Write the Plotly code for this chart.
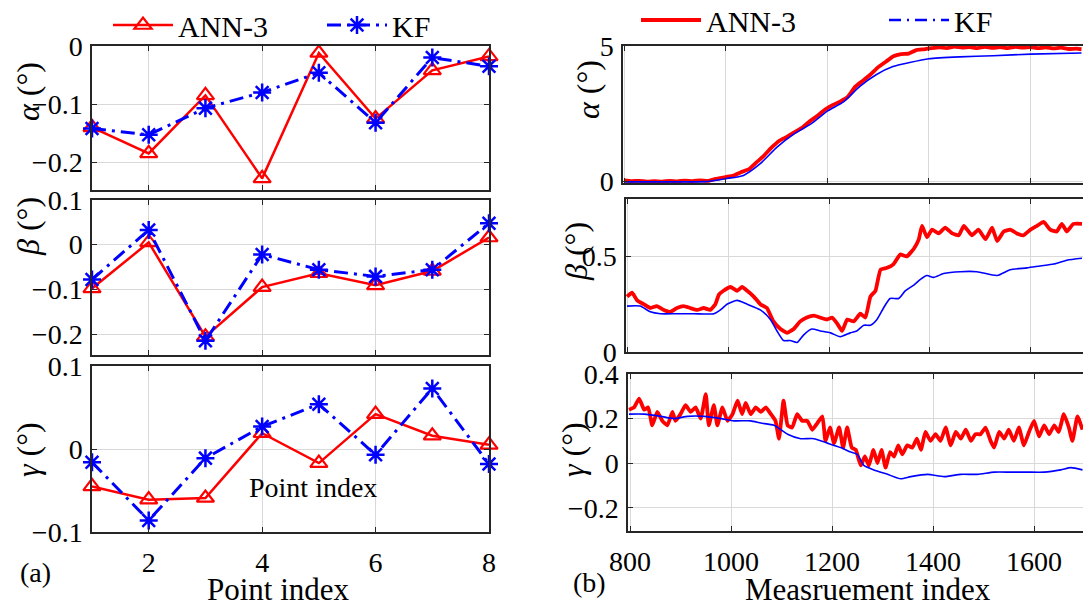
import plotly.graph_objects as go

# ---------------- data: (a) point-wise errors ----------------
point_idx = [1, 2, 3, 4, 5, 6, 7, 8]
ann_alpha_pt = [-0.14, -0.185, -0.085, -0.228, -0.012, -0.125, -0.042, -0.018]
kf_alpha_pt = [-0.142, -0.153, -0.107, -0.08, -0.046, -0.132, -0.02, -0.035]
ann_beta_pt = [-0.098, 0.005, -0.206, -0.095, -0.064, -0.091, -0.059, 0.016]
kf_beta_pt = [-0.078, 0.033, -0.215, -0.022, -0.056, -0.071, -0.056, 0.048]
ann_gamma_pt = [-0.045, -0.061, -0.059, 0.019, -0.017, 0.042, 0.016, 0.005]
kf_gamma_pt = [-0.016, -0.086, -0.011, 0.027, 0.054, -0.007, 0.073, -0.018]

# ---------------- data: (b) time series ----------------
ann_alpha_idx = [800, 815, 830, 845, 860, 875, 890, 905, 920, 935, 950, 965, 980, 1000, 1015,
                 1030, 1045, 1060, 1075, 1090, 1105, 1120, 1135, 1150, 1165, 1180, 1195, 1210,
                 1225, 1240, 1255, 1270, 1285, 1300, 1315, 1330, 1345, 1360, 1375, 1390, 1405,
                 1420, 1435, 1450, 1465, 1480, 1495, 1510, 1525, 1540, 1555, 1570, 1585, 1600,
                 1615, 1630, 1645, 1660, 1675, 1690, 1700]
ann_alpha_val = [0.05, 0.02, 0.03, 0.0, 0.02, 0.0, 0.03, 0.01, 0.04, 0.02, 0.05, 0.03, 0.10, 0.17,
                 0.22, 0.35, 0.45, 0.70, 0.95, 1.25, 1.50, 1.65, 1.82, 1.98, 2.22, 2.42, 2.65,
                 2.82, 2.95, 3.12, 3.50, 3.72, 3.95, 4.22, 4.42, 4.62, 4.70, 4.72, 4.85, 4.88,
                 4.92, 4.95, 4.92, 4.98, 4.94, 4.96, 4.92, 4.97, 4.93, 4.96, 4.92, 4.97, 4.94,
                 4.96, 4.92, 4.95, 4.91, 4.94, 4.89, 4.90, 4.88]
kf_alpha_idx = [800, 900, 960, 1000, 1035, 1068, 1101, 1134, 1167, 1200, 1231, 1264, 1296, 1329,
                1362, 1400, 1460, 1526, 1600, 1700]
kf_alpha_val = [-0.01, -0.01, 0.0, 0.11, 0.23, 0.66, 1.27, 1.75, 2.12, 2.60, 2.93, 3.51, 3.94,
                4.24, 4.39, 4.53, 4.60, 4.64, 4.70, 4.74]

ann_beta_idx = [800, 810, 820, 833, 846, 859, 873, 886, 899, 912, 925, 939, 952, 965, 975, 982,
                991, 1005, 1018, 1028, 1038, 1051, 1064, 1077, 1090, 1104, 1117, 1130, 1143, 1156,
                1170, 1183, 1196, 1206, 1216, 1226, 1236, 1249, 1262, 1272, 1282, 1292, 1302,
                1315, 1328, 1341, 1354, 1368, 1378, 1384, 1394, 1404, 1417, 1430, 1444, 1457,
                1467, 1483, 1496, 1510, 1523, 1533, 1546, 1559, 1572, 1585, 1599, 1612, 1625,
                1638, 1651, 1661, 1671, 1684, 1701]
ann_beta_val = [0.29, 0.31, 0.27, 0.25, 0.23, 0.24, 0.22, 0.21, 0.23, 0.24, 0.23, 0.22, 0.23,
                0.22, 0.25, 0.30, 0.32, 0.34, 0.32, 0.34, 0.32, 0.29, 0.25, 0.23, 0.16, 0.12,
                0.10, 0.12, 0.16, 0.18, 0.19, 0.18, 0.17, 0.18, 0.15, 0.11, 0.17, 0.16, 0.20,
                0.18, 0.29, 0.32, 0.43, 0.44, 0.46, 0.51, 0.50, 0.54, 0.59, 0.66, 0.60, 0.64,
                0.62, 0.65, 0.62, 0.61, 0.66, 0.61, 0.64, 0.59, 0.65, 0.58, 0.63, 0.64, 0.62,
                0.61, 0.64, 0.66, 0.68, 0.64, 0.63, 0.67, 0.63, 0.67, 0.67]
kf_beta_idx = [800, 826, 846, 866, 899, 932, 972, 985, 998, 1018, 1038, 1064, 1084, 1097, 1110,
               1123, 1137, 1150, 1166, 1183, 1203, 1222, 1242, 1255, 1269, 1282, 1295, 1308,
               1321, 1338, 1351, 1368, 1381, 1394, 1407, 1427, 1460, 1493, 1533, 1559, 1592,
               1618, 1645, 1671, 1701]
kf_beta_val = [0.24, 0.24, 0.21, 0.20, 0.20, 0.20, 0.20, 0.22, 0.25, 0.27, 0.25, 0.22, 0.17,
               0.11, 0.06, 0.06, 0.05, 0.09, 0.12, 0.11, 0.10, 0.08, 0.10, 0.11, 0.14, 0.14,
               0.17, 0.23, 0.28, 0.28, 0.32, 0.35, 0.38, 0.40, 0.39, 0.41, 0.42, 0.42, 0.40,
               0.43, 0.44, 0.45, 0.46, 0.48, 0.49]

ann_gamma_idx = [798, 808, 818, 828, 836, 844, 854, 864, 874, 884, 890, 900, 910, 920, 930, 940,
                 950, 956, 966, 973, 983, 993, 1003, 1013, 1022, 1029, 1039, 1049, 1059, 1069,
                 1079, 1088, 1095, 1104, 1112, 1121, 1131, 1141, 1151, 1161, 1171, 1181, 1187,
                 1196, 1204, 1214, 1222, 1230, 1239, 1247, 1257, 1265, 1273, 1282, 1290, 1298,
                 1306, 1315, 1323, 1331, 1339, 1349, 1359, 1368, 1376, 1385, 1395, 1405, 1415,
                 1425, 1435, 1445, 1455, 1465, 1475, 1484, 1494, 1504, 1514, 1521, 1531, 1541,
                 1550, 1560, 1570, 1580, 1590, 1600, 1610, 1620, 1630, 1640, 1649, 1659, 1669,
                 1676, 1686, 1696]
ann_gamma_val = [0.24, 0.25, 0.29, 0.24, 0.25, 0.17, 0.23, 0.19, 0.17, 0.23, 0.19, 0.22, 0.26,
                 0.23, 0.25, 0.20, 0.31, 0.17, 0.26, 0.17, 0.25, 0.19, 0.22, 0.28, 0.22, 0.27,
                 0.22, 0.25, 0.23, 0.25, 0.22, 0.19, 0.11, 0.28, 0.17, 0.16, 0.22, 0.19, 0.19,
                 0.15, 0.18, 0.21, 0.10, 0.16, 0.09, 0.16, 0.07, 0.16, 0.07, 0.06, -0.01, 0.03,
                 -0.01, 0.06, 0.00, 0.06, -0.02, 0.05, 0.03, 0.08, 0.04, 0.08, 0.07, 0.11, 0.06,
                 0.14, 0.10, 0.13, 0.10, 0.16, 0.08, 0.14, 0.11, 0.15, 0.10, 0.13, 0.13, 0.16,
                 0.10, 0.07, 0.14, 0.11, 0.15, 0.10, 0.16, 0.08, 0.14, 0.19, 0.12, 0.17, 0.13,
                 0.17, 0.14, 0.22, 0.16, 0.10, 0.21, 0.15]
kf_gamma_idx = [798, 828, 861, 887, 914, 947, 980, 1006, 1039, 1059, 1085, 1112, 1138, 1164,
                1191, 1217, 1237, 1250, 1263, 1283, 1310, 1336, 1356, 1389, 1422, 1455, 1488,
                1521, 1554, 1587, 1620, 1653, 1673, 1696]
kf_gamma_val = [0.22, 0.22, 0.21, 0.20, 0.21, 0.21, 0.20, 0.19, 0.19, 0.18, 0.17, 0.13, 0.11,
                0.11, 0.09, 0.07, 0.05, 0.04, -0.01, -0.03, -0.05, -0.07, -0.06, -0.05, -0.06,
                -0.05, -0.05, -0.04, -0.04, -0.04, -0.04, -0.03, -0.02, -0.03]

left_xticks = [2, 4, 6, 8]
right_xticks = [800, 1000, 1200, 1400, 1600]

# ---------------- styling ----------------
W, H = 1083, 607
FONT = "Liberation Serif"
RED = "#ff0000"
BLUE = "#0000ff"
AXC = "#262626"
GRID = "#d9d9d9"


def px(x):
    return x / W


def py(y):
    return 1 - y / H


fig = go.Figure()

left_sets = [(ann_alpha_pt, kf_alpha_pt), (ann_beta_pt, kf_beta_pt), (ann_gamma_pt, kf_gamma_pt)]
for i, (a, k) in enumerate(left_sets):
    n = i + 1
    fig.add_trace(go.Scatter(
        x=point_idx, y=a, mode="lines+markers", name="ANN-3",
        line=dict(color=RED, width=2.5),
        marker=dict(symbol="triangle-up-open", size=15, color=RED, line=dict(width=2.2, color=RED)),
        xaxis=f"x{n}", yaxis=f"y{n}", showlegend=(i == 0), legend="legend", cliponaxis=False))
    fig.add_trace(go.Scatter(
        x=point_idx, y=k, mode="lines+markers", name="KF",
        line=dict(color=BLUE, width=3, dash="14px,6px,3px,6px"),
        marker=dict(symbol="asterisk-open", size=15, color=BLUE, line=dict(width=2.5, color=BLUE)),
        xaxis=f"x{n}", yaxis=f"y{n}", showlegend=(i == 0), legend="legend3", cliponaxis=False))

right_sets = [(ann_alpha_idx, ann_alpha_val, kf_alpha_idx, kf_alpha_val),
              (ann_beta_idx, ann_beta_val, kf_beta_idx, kf_beta_val),
              (ann_gamma_idx, ann_gamma_val, kf_gamma_idx, kf_gamma_val)]
for i, (ax_, av, kx, kv) in enumerate(right_sets):
    n = i + 4
    fig.add_trace(go.Scatter(
        x=ax_, y=av, mode="lines", name="ANN-3",
        line=dict(color=RED, width=3.8, shape="spline", smoothing=0.4),
        xaxis=f"x{n}", yaxis=f"y{n}", showlegend=(i == 0), legend="legend2"))
    fig.add_trace(go.Scatter(
        x=kx, y=kv, mode="lines", name="KF",
        line=dict(color=BLUE, width=1.6, shape="spline", smoothing=0.6),
        xaxis=f"x{n}", yaxis=f"y{n}", showlegend=False, legend="legend4"))
# legend-only entry for KF in (b) drawn as dash-dot like the original legend
fig.add_trace(go.Scatter(
    x=[None], y=[None], mode="lines", name="KF",
    line=dict(color=BLUE, width=2.5, dash="12px,6px,2px,6px"),
    xaxis="x4", yaxis="y4", showlegend=True, legend="legend4"))

# ---------------- axes ----------------
left_dom_x = [px(92), px(489)]
left_dom_y = [[py(190), py(46)], [py(355), py(200)], [py(532), py(366)]]
left_ranges = [[-0.248, 0.0], [-0.247, 0.1], [-0.1, 0.1]]
left_yticks = [[0, -0.1, -0.2], [0.1, 0, -0.1, -0.2], [0.1, 0, -0.1]]

right_dom_x = [[px(623), 1.0], [px(626), 1.0], [px(628), 1.0]]
right_dom_y = [[py(183), py(46)], [py(352), py(199)], [py(531), py(374)]]
right_xr = [[798, 1703], [798, 1703], [796, 1697]]
right_ranges = [[-0.05, 5.0], [0.0, 0.8], [-0.304, 0.4]]
right_yticks = [[0, 5], [0, 0.5], [-0.2, 0, 0.2, 0.4]]

common_axis = dict(showline=True, linecolor=AXC, linewidth=1.5, mirror="ticks",
                   ticks="inside", ticklen=5, tickcolor=AXC, showgrid=True,
                   gridcolor=GRID, gridwidth=1, zeroline=False, automargin=False,
                   tickfont=dict(family=FONT, size=28, color="black"))

layout_axes = {}
for i in range(3):
    n = i + 1
    sx = "xaxis" if n == 1 else f"xaxis{n}"
    sy = "yaxis" if n == 1 else f"yaxis{n}"
    layout_axes[sx] = dict(common_axis, domain=left_dom_x, range=[1, 8], tickvals=left_xticks,
                           showticklabels=(i == 2), anchor=f"y{n}", ticklabelstandoff=5)
    layout_axes[sy] = dict(common_axis, domain=left_dom_y[i], range=left_ranges[i],
                           tickvals=left_yticks[i], anchor=f"x{n}", ticklabelstandoff=2)
for i in range(3):
    n = i + 4
    layout_axes[f"xaxis{n}"] = dict(common_axis, domain=right_dom_x[i], range=right_xr[i],
                                    tickvals=right_xticks, showticklabels=(i == 2),
                                    anchor=f"y{n}", ticklabelstandoff=5)
    layout_axes[f"yaxis{n}"] = dict(common_axis, domain=right_dom_y[i], range=right_ranges[i],
                                    tickvals=right_yticks[i], anchor=f"x{n}", ticklabelstandoff=2,
                                    mirror=False)

fig.update_layout(**layout_axes)

# ---------------- text ----------------
annots = []
ytitles = [("<i>α</i> (°)", 28, 92), ("<i>β</i> (°)", 28, 227), ("<i>γ</i> (°)", 28, 450),
           ("<i>α</i> (°)", 588, 90), ("<i>β</i> (°)", 576, 252), ("<i>γ</i> (°)", 573, 450)]
for t, x, y in ytitles:
    annots.append(dict(text=t, x=px(x), y=py(y), xref="paper", yref="paper", showarrow=False,
                       textangle=-90, xanchor="center", yanchor="middle",
                       font=dict(family=FONT, size=32, color="black")))
texts = [("Point index", 278, 589, 31), ("Measruement index", 868, 589, 31),
         ("(a)", 35, 572, 28), ("(b)", 589, 582, 28), ("Point index", 313, 487, 28)]
for t, x, y, s in texts:
    annots.append(dict(text=t, x=px(x), y=py(y), xref="paper", yref="paper", showarrow=False,
                       xanchor="center", yanchor="middle",
                       font=dict(family=FONT, size=s, color="black")))

leg_common = dict(orientation="h", xanchor="left", yanchor="middle",
                  font=dict(family=FONT, size=30, color="black"), bgcolor="rgba(0,0,0,0)",
                  itemwidth=60)
fig.update_layout(
    template="none",
    width=W, height=H, margin=dict(l=0, r=0, t=0, b=0, autoexpand=False),
    paper_bgcolor="white", plot_bgcolor="white",
    font=dict(family=FONT, color="black"),
    annotations=annots,
    legend=dict(leg_common, x=px(108), y=py(25)),
    legend3=dict(leg_common, x=px(322), y=py(25)),
    legend2=dict(leg_common, x=px(636), y=py(20)),
    legend4=dict(leg_common, x=px(884), y=py(20)),
)

fig.write_html("out.html", config={"displayModeBar": False},
               post_script="document.body.style.margin='0';document.body.style.overflow='hidden';")
